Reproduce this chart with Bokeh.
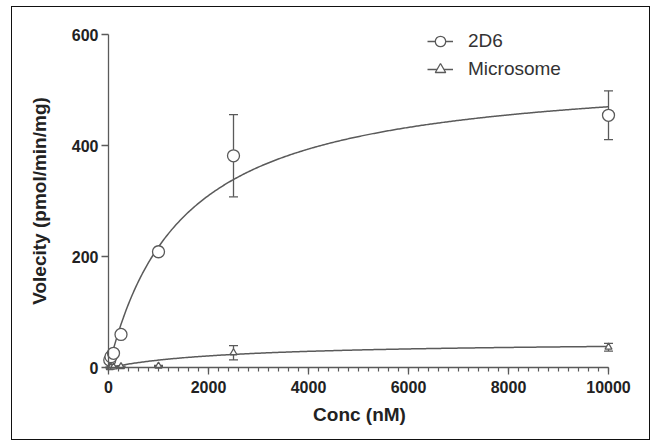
import numpy as np
from bokeh.plotting import figure
from bokeh.models import (ColumnDataSource, Whisker, TeeHead, Legend, LegendItem,
                          FixedTicker, Range1d, LinearAxis)
from bokeh.embed import file_html
from bokeh.resources import INLINE

# ---- data ----
conc_2d6 = [25, 50, 100, 250, 1000, 2500, 10000]
vel_2d6 = [14, 20, 26, 60, 209, 382, 455]
err_2d6 = [3, 4, 5, 5, 8, 74, 44]

conc_mic = [25, 50, 100, 250, 1000, 2500, 10000]
vel_mic = [0.5, 1, 1.5, 2, 3, 27, 37]
err_mic = [0.5, 0.5, 1, 1, 1, 13, 7]

# fitted Michaelis-Menten parameters
vmax_2d6, km_2d6 = 540, 1480
vmax_mic, km_mic = 48, 2500

x_ticks = [0, 2000, 4000, 6000, 8000, 10000]
x_minor = list(range(0, 10001, 200))
y_ticks = [0, 200, 400, 600]

GREY = "#5a5a5a"
TXT = "#222222"

W, H = 639, 434
p = figure(width=W, height=H, output_backend="svg", toolbar_location=None,
           x_range=Range1d(-160, 10200), y_range=Range1d(-14, 615),
           min_border_left=88, min_border_right=33, min_border_top=19,
           min_border_bottom=66)
p.styles = {"border": "1px solid #111", "margin-left": "11px", "margin-top": "6px"}
p.grid.visible = False
p.outline_line_color = None
p.background_fill_color = "white"
p.border_fill_color = "white"

# label-only axes at the frame edges
for ax in (p.xaxis[0], p.yaxis[0]):
    ax.axis_line_color = None
    ax.major_tick_line_color = None
    ax.minor_tick_line_color = None
    ax.major_tick_out = 0
    ax.major_tick_in = 0
    ax.minor_tick_out = 0
    ax.minor_tick_in = 0
    ax.major_label_text_font = "Liberation Sans"
    ax.major_label_text_font_style = "bold"
    ax.major_label_text_font_size = "16px"
    ax.major_label_text_color = TXT
    ax.axis_label_text_font = "Liberation Sans"
    ax.axis_label_text_font_style = "bold"
    ax.axis_label_text_font_size = "19px"
    ax.axis_label_text_color = TXT
p.xaxis.ticker = FixedTicker(ticks=x_ticks, minor_ticks=[])
p.yaxis.ticker = FixedTicker(ticks=y_ticks, minor_ticks=[])
p.xaxis.axis_label = "Conc (nM)"
p.yaxis.axis_label = "Volecity (pmol/min/mg)"
p.xaxis.major_label_standoff = 5
p.yaxis.major_label_standoff = 2
p.xaxis.axis_label_standoff = 8
p.yaxis.axis_label_standoff = 19

# line + tick axes placed at zero
def line_axis(ticker, bounds):
    a = LinearAxis(ticker=ticker, fixed_location=0, bounds=bounds,
                   axis_line_color=GREY, axis_line_width=1.3,
                   major_tick_line_color=GREY, major_tick_line_width=1.3,
                   major_tick_out=7, major_tick_in=0,
                   minor_tick_line_color=GREY, minor_tick_line_width=1.2,
                   minor_tick_out=4, minor_tick_in=0,
                   major_label_text_color=None, major_label_text_font_size="1px",
                   major_label_standoff=0)
    return a

p.add_layout(line_axis(FixedTicker(ticks=x_ticks, minor_ticks=x_minor), (0, 10000)), "below")
ya = line_axis(FixedTicker(ticks=y_ticks, minor_ticks=[]), (0, 600))
ya.minor_tick_line_color = None
p.add_layout(ya, "left")

# fit curves
xs = np.linspace(0, 10000, 400)
c1 = p.line(xs, vmax_2d6 * xs / (km_2d6 + xs), line_color=GREY, line_width=1.5)
c2 = p.line(xs, vmax_mic * xs / (km_mic + xs), line_color=GREY, line_width=1.5)

# error bars
s1 = ColumnDataSource(dict(x=conc_2d6, y=vel_2d6,
                           lo=[v - e for v, e in zip(vel_2d6, err_2d6)],
                           hi=[v + e for v, e in zip(vel_2d6, err_2d6)]))
s2 = ColumnDataSource(dict(x=conc_mic, y=vel_mic,
                           lo=[v - e for v, e in zip(vel_mic, err_mic)],
                           hi=[v + e for v, e in zip(vel_mic, err_mic)]))
for src in (s1, s2):
    w = Whisker(base="x", lower="lo", upper="hi", source=src, dimension="height",
                line_color=GREY, line_width=1.3,
                upper_head=TeeHead(size=9, line_color=GREY, line_width=1.3),
                lower_head=TeeHead(size=9, line_color=GREY, line_width=1.3))
    p.add_layout(w)

m1 = p.scatter("x", "y", source=s1, marker="circle", size=12, fill_color="white",
               line_color=GREY, line_width=1.3)
m2 = p.scatter("x", "y", source=s2, marker="triangle", size=7, fill_color="white",
               line_color=GREY, line_width=1.3)

legend = Legend(items=[LegendItem(label="2D6", renderers=[c1, m1]),
                       LegendItem(label="Microsome", renderers=[c2, m2])],
                location=(327, 292), padding=0, margin=0, spacing=0,
                glyph_width=26, glyph_height=28, label_height=28, label_standoff=15,
                label_text_font="Liberation Sans", label_text_font_size="19px",
                label_text_color="#333333", border_line_color=None,
                background_fill_alpha=0)
p.add_layout(legend, "center")

open("out.html", "w").write(file_html(p, INLINE))
